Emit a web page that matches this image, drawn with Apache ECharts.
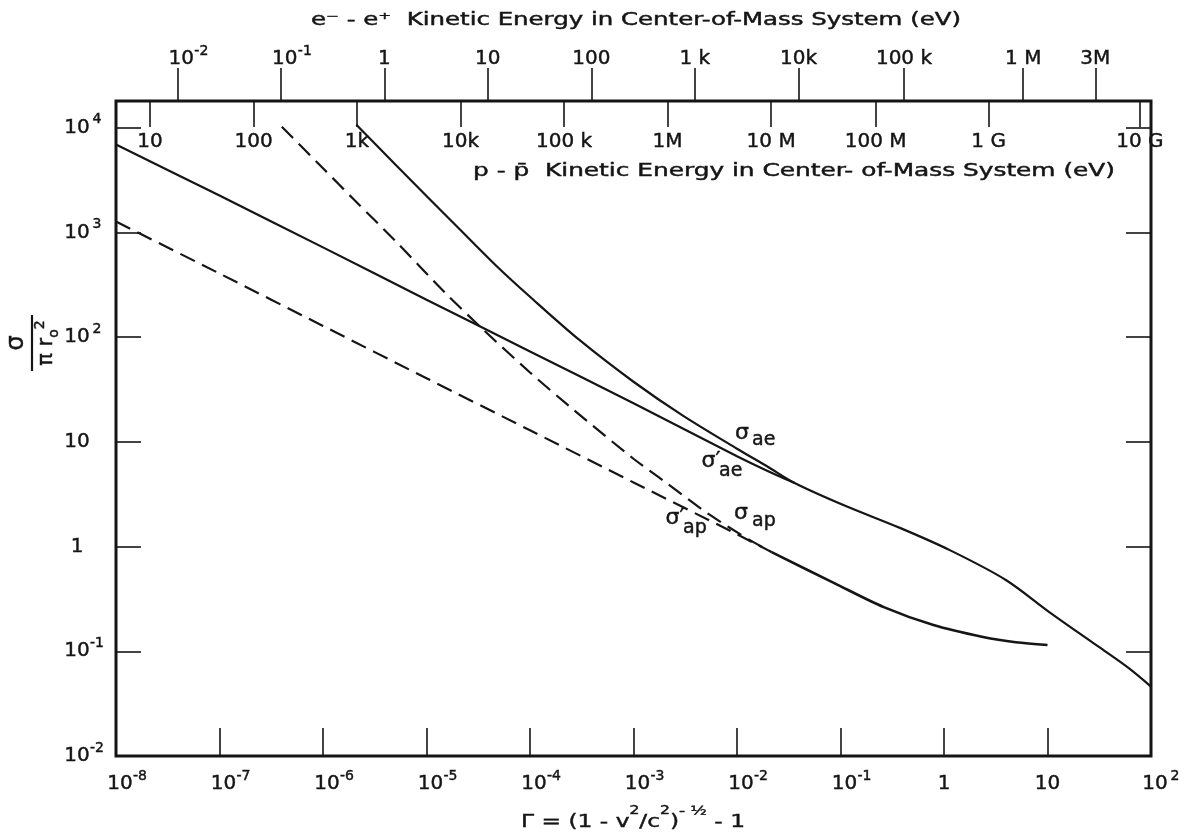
<!DOCTYPE html>
<html><head><meta charset="utf-8">
<script src="https://cdn.jsdelivr.net/npm/echarts@6/dist/echarts.min.js"></script>
<style>html,body{margin:0;padding:0;background:#fff}#chart{width:1186px;height:837px}</style>
</head><body><div id="chart"></div>
<script>
// ---------------- data ----------------
const gammaTicks = [1e-8, 1e-7, 1e-6, 1e-5, 1e-4, 1e-3, 1e-2, 1e-1, 1, 10, 100];
const sigmaTicks = [1e-2, 1e-1, 1, 10, 100, 1000, 10000];

// top scales: kinetic energy in the centre-of-mass system (eV)
const eeEnergies = [0.01, 0.1, 1, 10, 100, 1e3, 1e4, 1e5, 1e6, 3e6];
const eeLabels = ['10^-2', '10^-1', '1', '10', '100', '1 k', '10k', '100 k', '1 M', '3M'];
const ppEnergies = [10, 100, 1e3, 1e4, 1e5, 1e6, 1e7, 1e8, 1e9, 1e10];
const ppLabels = ['10', '100', '1k', '10k', '100 k', '1M', '10 M', '100 M', '1 G', '10 G'];
const electronMassEV = 0.511e6;
const protonMassEV = 938.27e6;

// sigma_ae (with Coulomb factor), solid
const aeGamma = [2.1e-6, 5e-6, 2.14e-5, 5e-5, 1e-4, 3e-4, 1e-3, 3e-3, 1e-2, 0.02, 0.036, 0.108, 0.38, 1.15, 3.96, 10.4, 31.4, 61, 100];
const aeSigma = [10700, 4450, 1050, 455, 243, 94, 37.5, 17.8, 8.6, 5.75, 4.05, 2.48, 1.50, 0.92, 0.48, 0.237, 0.11, 0.069, 0.046];
// sigma'_ae, solid
const aePrimeGamma = [1e-8, 1e-7, 1e-6, 1e-5, 1e-4, 1e-3, 1e-2, 0.02, 0.036];
const aePrimeSigma = [6900, 2250, 720, 228, 73, 23.4, 7.3, 5.25, 4.05];
// sigma_ap, dashed
const apGamma = [4.0e-7, 1e-6, 2e-6, 5e-6, 1.5e-5, 3.47e-5, 1e-4, 2.6e-4, 1e-3, 1.92e-3, 5.3e-3, 0.014, 0.0216];
const apSigma = [10200, 4100, 2050, 830, 268, 120, 46, 20.5, 6.9, 4.3, 2.05, 1.12, 0.885];
// sigma'_ap, dashed
const apPrimeGamma = [1e-8, 1e-7, 1e-6, 1e-5, 1e-4, 1e-3, 1e-2, 0.0216];
const apPrimeSigma = [1270, 405, 128, 40.5, 12.9, 4.1, 1.31, 0.885];
// common sigma_ap tail, solid
const apTailGamma = [0.0216, 0.087, 0.262, 0.79, 2.38, 4.93, 10];
const apTailSigma = [0.885, 0.448, 0.264, 0.178, 0.137, 0.122, 0.115];

// ---------------- helpers ----------------
const FONT = "'DejaVu Sans', sans-serif";
const INK = '#151515';
const pairs = (xs, ys) => xs.map((x, i) => [x, ys[i]]);
const gammaFromKE = (ke, m) => (Math.pow(ke / m + 2, 2) - 4) / 2;
const eeGamma = eeEnergies.map(e => gammaFromKE(e, electronMassEV));
const ppGamma = ppEnergies.map(e => gammaFromKE(e, protonMassEV));
const X_MIN = gammaTicks[0] / 1.00001, X_MAX = gammaTicks[gammaTicks.length - 1] * 1.00001;
const Y_MIN = sigmaTicks[0] / 1.00001, Y_MAX = 18000;

// axis-label rich styles (ECharts label naming)
const ink = {color: INK, fontFamily: FONT, textBorderColor: INK, textBorderWidth: 0.45};
const rich = {
  p: {width: 24, fontSize: 20, lineHeight: 30},
  b: Object.assign({fontSize: 20, lineHeight: 30, width: 24, align: 'center'}, ink),
  s: Object.assign({fontSize: 14, lineHeight: 10, verticalAlign: 'top', width: 16, align: 'center'}, ink),
  c: Object.assign({fontSize: 20, lineHeight: 30}, ink)
};
// graphic rich styles (zrender naming)
const gInk = {fill: INK, fontFamily: FONT, stroke: INK, lineWidth: 0.45};

function expText(e) { return e < 0 ? '-' + (-e) : String(e); }
function bottomLabel(v) {
  const e = Math.round(Math.log10(v));
  if (e === 0) return '{c|1}';
  if (e === 1) return '{c|10}';
  return '{p| }{b|10}{s|' + expText(e) + '}';
}
function leftLabel(v) {
  const e = Math.round(Math.log10(v));
  if (e === 0) return '{b|1}{s| }';
  if (e === 1) return '{b|10}{s| }';
  return '{b|10}{s|' + expText(e) + '}';
}
function lookup(vals, labels, v) {
  let best = 0, bd = Infinity;
  vals.forEach((g, i) => { const d = Math.abs(Math.log10(g) - Math.log10(v)); if (d < bd) { bd = d; best = i; } });
  return labels[best];
}
function topLabel(lab) {
  const m = /^10\^(.+)$/.exec(lab);
  if (m) return '{p| }{b|10}{s|' + m[1] + '}';
  return '{c|' + lab + '}';
}
const mctx = document.createElement('canvas').getContext('2d');
function widthOf(text, font) { mctx.font = font; return mctx.measureText(text).width; }

const eeTitle = 'e⁻ - e⁺  Kinetic Energy in Center-of-Mass System (eV)';
const ppTitle = 'p - p̄  Kinetic Energy in Center- of-Mass System (eV)';
const titleFont = "17px 'DejaVu Sans'";
const eeScale = 650 / widthOf(eeTitle, titleFont);
const ppScale = 642 / widthOf(ppTitle, titleFont);
const gTok = [['Γ = (1 - v', 18], ['2', 12], ['/c', 18], ['2', 12], [')', 18], ['- ½', 13], [' - 1', 18]];
const gWidth = gTok.reduce((s, t) => s + widthOf(t[0], t[1] + "px 'DejaVu Sans'"), 0);
const gScale = 224 / gWidth;
const txt = (x, y, text, size, align) => ({type: 'text', x: x, y: y, style: {text: text, font: size + "px 'DejaVu Sans'", fill: INK, stroke: INK, lineWidth: 0.45, textAlign: align || 'center', textVerticalAlign: 'middle'}});

const baseXAxis = {
  type: 'log', logBase: 10, min: X_MIN, max: X_MAX,
  axisLine: {show: false, onZero: false}, splitLine: {show: false},
  minorTick: {show: false}, minorSplitLine: {show: false}
};
const baseYAxis = {
  type: 'log', logBase: 10, min: Y_MIN, max: Y_MAX,
  axisLine: {show: false, onZero: false}, splitLine: {show: false},
  minorTick: {show: false}, minorSplitLine: {show: false}
};
const tickStyle = {color: INK, width: 1.6};

const chart = echarts.init(document.getElementById('chart'), null, {renderer: 'canvas', width: 1186, height: 837});
const solid = {color: INK, width: 2.2};
const dashed = {color: INK, width: 2.2, type: [16, 8]};
const lineBase = {type: 'line', symbol: 'none', smooth: 0.3, silent: true};

chart.setOption({
  animation: false,
  backgroundColor: '#ffffff',
  grid: {left: 116, right: 26, top: 101, bottom: 81, show: true, borderColor: INK, borderWidth: 3, backgroundColor: 'transparent'},
  xAxis: [
    Object.assign({}, baseXAxis, {
      position: 'bottom',
      axisTick: {inside: true, length: 28, lineStyle: tickStyle, customValues: gammaTicks},
      axisLabel: {customValues: gammaTicks, formatter: bottomLabel, rich: rich, margin: 13, hideOverlap: false, showMinLabel: true, showMaxLabel: true}
    }),
    Object.assign({}, baseXAxis, {
      position: 'top',
      axisTick: {inside: false, length: 33, lineStyle: tickStyle, customValues: eeGamma},
      axisLabel: {customValues: eeGamma, formatter: v => topLabel(lookup(eeGamma, eeLabels, v)), rich: rich, margin: 27, hideOverlap: false}
    }),
    Object.assign({}, baseXAxis, {
      position: 'top',
      axisTick: {inside: true, length: 26, lineStyle: tickStyle, customValues: ppGamma},
      axisLabel: {inside: true, customValues: ppGamma, formatter: v => '{c|' + lookup(ppGamma, ppLabels, v) + '}', rich: rich, margin: 26, hideOverlap: false}
    })
  ],
  yAxis: [
    Object.assign({}, baseYAxis, {
      position: 'left',
      axisTick: {inside: true, length: 25, lineStyle: tickStyle, customValues: sigmaTicks},
      axisLabel: {customValues: sigmaTicks, formatter: leftLabel, rich: rich, margin: 11, hideOverlap: false}
    }),
    Object.assign({}, baseYAxis, {
      position: 'right',
      axisTick: {inside: true, length: 25, lineStyle: tickStyle, customValues: sigmaTicks},
      axisLabel: {show: false}
    })
  ],
  series: [
    Object.assign({name: 'σae', data: pairs(aeGamma, aeSigma), lineStyle: solid}, lineBase),
    Object.assign({name: "σ'ae", data: pairs(aePrimeGamma, aePrimeSigma), lineStyle: solid}, lineBase),
    Object.assign({name: 'σap', data: pairs(apGamma, apSigma), lineStyle: dashed}, lineBase),
    Object.assign({name: "σ'ap", data: pairs(apPrimeGamma, apPrimeSigma), lineStyle: dashed}, lineBase),
    Object.assign({name: 'σap (common)', data: pairs(apTailGamma, apTailSigma), lineStyle: {color: INK, width: 2.6}}, lineBase)
  ],
  graphic: [
    {type: 'text', x: 636, y: 21, scaleX: eeScale, style: {text: eeTitle, font: titleFont, fill: INK, stroke: INK, lineWidth: 0.45, textAlign: 'center', textVerticalAlign: 'middle'}},
    {type: 'text', x: 794, y: 172, scaleX: ppScale, style: {text: ppTitle, font: titleFont, fill: INK, stroke: INK, lineWidth: 0.45, textAlign: 'center', textVerticalAlign: 'middle'}},
    {type: 'text', x: 633, y: 818, scaleX: gScale, style: {
      text: '{t|Γ = (1 - v}{u|2}{t|/c}{u|2}{t|)}{h|- ½}{t| - 1}', textAlign: 'center', textVerticalAlign: 'middle',
      rich: {
        t: Object.assign({fontSize: 18, lineHeight: 26, verticalAlign: 'bottom'}, gInk),
        u: Object.assign({fontSize: 12, lineHeight: 12, verticalAlign: 'top'}, gInk),
        h: Object.assign({fontSize: 13, lineHeight: 14, verticalAlign: 'top'}, gInk)
      }}},
    {type: 'group', x: 32, y: 343, rotation: Math.PI / 2, children: [
      txt(0, -15, 'σ', 24),
      {type: 'line', shape: {x1: -28, y1: 0, x2: 28, y2: 0}, style: {stroke: INK, lineWidth: 2.2}},
      {type: 'text', x: 0, y: 15, style: {text: '{t|π r}{o|o}{q|2}', textAlign: 'center', textVerticalAlign: 'middle',
        rich: {
          t: Object.assign({fontSize: 21, lineHeight: 28}, gInk),
          o: Object.assign({fontSize: 14, lineHeight: 12, verticalAlign: 'bottom'}, gInk),
          q: Object.assign({fontSize: 14, lineHeight: 12, verticalAlign: 'top'}, gInk)
        }}}
    ]},
    // curve annotations
    txt(742, 433, 'σ', 22), txt(752, 440, 'ae', 19, 'left'),
    txt(711, 461, 'σ′', 22), txt(719, 471, 'ae', 19, 'left'),
    txt(741, 513, 'σ', 22), txt(752, 521, 'ap', 19, 'left'),
    txt(675, 518, 'σ′', 22), txt(683, 528, 'ap', 19, 'left')
  ]
});
</script></body></html>
